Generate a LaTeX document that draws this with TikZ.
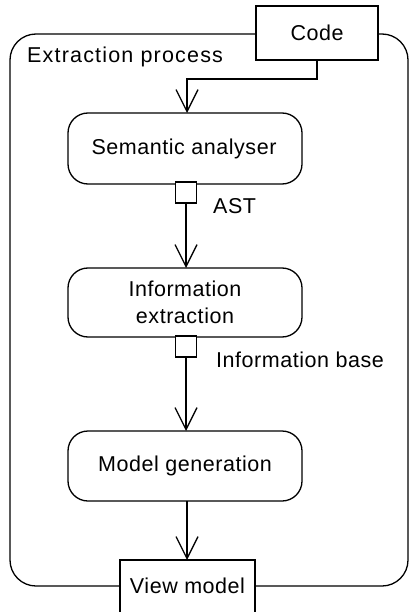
\documentclass[tikz,border=0pt]{standalone}
\usepackage{fontspec}
\setmainfont{Liberation Sans}[LetterSpace=2.5]
\newfontfamily\widefont{Liberation Sans}[LetterSpace=5.5]
\usetikzlibrary{arrows.meta}
\begin{document}
\begin{tikzpicture}[x=1pt,y=-1pt,
  lw/.style={line width=1.3pt},
  proc/.style={lw,draw,fill=white,rounded corners=20pt},
  portbox/.style={lw,draw,fill=white},
  flow/.style={lw,-{Straight Barb[length=22pt,width=22pt,line width=1.3pt]}},
  txt/.style={font=\fontsize{21.5}{27}\selectfont,align=center,inner sep=0pt}]
\useasboundingbox (0,0) rectangle (409,612);
% outer process frame
\draw[lw,rounded corners=26pt] (10,34) rectangle (408,586);
\node[txt,font=\widefont\fontsize{21.5}{27}\selectfont,anchor=west] (title) at (27,57) {Extraction process};
% Code
\draw[portbox] (256,6) rectangle (378,60);
\node[txt] (code) at (317,33) {Code};
\coordinate (codeb) at (317,60);
% processes
\draw[proc] (68,113) rectangle (302,184);
\node[txt] (sem) at (184,148.5) {Semantic analyser};
\coordinate (semt) at (187,113);
\draw[proc] (68,268) rectangle (302,337);
\node[txt] (inf) at (185,302.5) {Information\\extraction};
\coordinate (inft) at (186,268);
\draw[proc] (68,431) rectangle (302,501);
\node[txt] (mod) at (185,466) {Model generation};
\coordinate (modt) at (186,431);
\coordinate (modb) at (187,501);
% ports
\draw[portbox] (175.5,182) rectangle (196.5,203);
\coordinate (astb) at (186,203);
\node[txt,anchor=west] (ast) at (213,206) {AST};
\draw[portbox] (175.5,336) rectangle (196.5,357);
\coordinate (ibb) at (186,357);
\node[txt,anchor=west] (ib) at (216,360) {Information base};
% View model
\draw[portbox] (120,560) rectangle (255,615);
\node[txt] (view) at (187.5,586) {View model};
\coordinate (viewt) at (187,560);
% flows
\draw[flow] (codeb) |- (252,79) -| (semt);
\draw[flow] (astb) -- (inft);
\draw[flow] (ibb) -- (modt);
\draw[flow] (modb) -- (viewt);
\end{tikzpicture}
\end{document}
